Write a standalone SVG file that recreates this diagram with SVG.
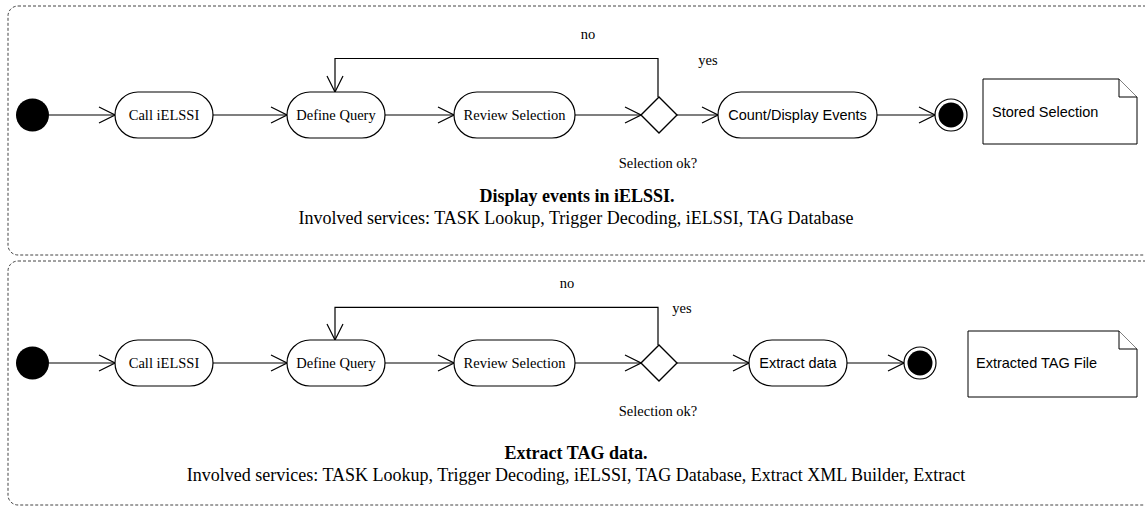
<svg xmlns="http://www.w3.org/2000/svg" width="1145" height="507" viewBox="0 0 1145 507">
  <style>
    .panel { fill: none; stroke: #444; stroke-width: 1; stroke-dasharray: 3 2; }
    .action { fill: #fff; stroke: #000; stroke-width: 1.2; }
    .decision { fill: #fff; stroke: #000; stroke-width: 1.4; }
    .note { fill: #fff; stroke: #000; stroke-width: 1; }
    .edge { fill: none; stroke: #000; stroke-width: 1.2; marker-end: url(#open); }
    .serif { font-family: "Liberation Serif", "Times New Roman", serif; font-size: 14.5px; fill: #000; }
    .sans { font-family: "Liberation Sans", Arial, sans-serif; font-size: 14.5px; fill: #000; }
    .title { font-family: "Liberation Serif", "Times New Roman", serif; font-size: 18px; fill: #000; text-anchor: middle; }
    .mid { text-anchor: middle; }
  </style>
  <defs>
    <marker id="open" viewBox="0 0 18 18" refX="17" refY="9" markerWidth="18" markerHeight="18" markerUnits="userSpaceOnUse" orient="auto">
      <path d="M1,1 L17,9 L1,17" fill="none" stroke="#000" stroke-width="1.2"/>
    </marker>
  </defs>

  <!-- swimlane frames -->
  <rect class="panel" x="8" y="6" width="1150" height="249" rx="10"/>
  <rect class="panel" x="8" y="261" width="1150" height="244" rx="10"/>

  <!-- ===== Display events in iELSSI ===== -->
  <g id="connectors-display">
    <line class="edge" x1="49" y1="115" x2="115" y2="115"/>
    <line class="edge" x1="213" y1="115" x2="287" y2="115"/>
    <line class="edge" x1="385" y1="115" x2="454" y2="115"/>
    <line class="edge" x1="575" y1="115" x2="641" y2="115"/>
    <line class="edge" x1="677" y1="115" x2="718" y2="115"/>
    <line class="edge" x1="877" y1="115" x2="935" y2="115"/>
    <polyline class="edge" points="658,97 658,58.5 335,58.5 335,92"/>
  </g>
  <g id="d-start"><circle cx="32.5" cy="115" r="16.5" fill="#000"/></g>
  <g id="d-call">
    <rect class="action" x="115" y="92" width="98" height="46" rx="23"/>
    <text class="serif mid" x="164" y="120">Call iELSSI</text>
  </g>
  <g id="d-define">
    <rect class="action" x="287" y="92" width="98" height="46" rx="23"/>
    <text class="serif mid" x="336" y="120">Define Query</text>
  </g>
  <g id="d-review">
    <rect class="action" x="454" y="92" width="121" height="46" rx="23"/>
    <text class="serif mid" x="514.5" y="120">Review Selection</text>
  </g>
  <g id="d-decision">
    <polygon class="decision" points="659,97 677,115 659,133 641,115"/>
    <text class="serif mid" x="588" y="39">no</text>
    <text class="serif mid" x="708" y="65">yes</text>
    <text class="serif mid" x="658" y="168">Selection ok?</text>
  </g>
  <g id="d-count">
    <rect class="action" x="718" y="92" width="159" height="46" rx="23"/>
    <text class="sans mid" x="797.5" y="120">Count/Display Events</text>
  </g>
  <g id="d-end">
    <circle cx="951" cy="115" r="16" fill="#fff" stroke="#000" stroke-width="1.2"/>
    <circle cx="951" cy="115" r="12.5" fill="#000"/>
  </g>
  <g id="d-note">
    <path class="note" d="M983,79 H1119 L1137,97 V144 H983 Z"/>
    <path class="note" d="M1119,79 V97 H1137" fill="none"/>
    <text class="sans" x="992" y="117">Stored Selection</text>
  </g>
  <g id="d-caption">
    <text class="title" x="577" y="202" font-weight="bold">Display events in iELSSI.</text>
    <text class="title" x="576" y="224">Involved services: TASK Lookup, Trigger Decoding, iELSSI, TAG Database</text>
  </g>

  <!-- ===== Extract TAG data ===== -->
  <g id="connectors-extract">
    <line class="edge" x1="49" y1="363" x2="115" y2="363"/>
    <line class="edge" x1="213" y1="363" x2="287" y2="363"/>
    <line class="edge" x1="385" y1="363" x2="454" y2="363"/>
    <line class="edge" x1="575" y1="363" x2="641" y2="363"/>
    <line class="edge" x1="677" y1="363" x2="749" y2="363"/>
    <line class="edge" x1="847" y1="363" x2="904" y2="363"/>
    <polyline class="edge" points="658,345 658,307.3 335,307.3 335,340"/>
  </g>
  <g id="e-start"><circle cx="32.5" cy="363" r="16.5" fill="#000"/></g>
  <g id="e-call">
    <rect class="action" x="115" y="340" width="98" height="46" rx="23"/>
    <text class="serif mid" x="164" y="368">Call iELSSI</text>
  </g>
  <g id="e-define">
    <rect class="action" x="287" y="340" width="98" height="46" rx="23"/>
    <text class="serif mid" x="336" y="368">Define Query</text>
  </g>
  <g id="e-review">
    <rect class="action" x="454" y="340" width="121" height="46" rx="23"/>
    <text class="serif mid" x="514.5" y="368">Review Selection</text>
  </g>
  <g id="e-decision">
    <polygon class="decision" points="659,345 677,363 659,381 641,363"/>
    <text class="serif mid" x="567" y="288">no</text>
    <text class="serif mid" x="682" y="313">yes</text>
    <text class="serif mid" x="658" y="416">Selection ok?</text>
  </g>
  <g id="e-extract">
    <rect class="action" x="749" y="340" width="98" height="46" rx="23"/>
    <text class="sans mid" x="798" y="368">Extract data</text>
  </g>
  <g id="e-end">
    <circle cx="920" cy="363" r="16" fill="#fff" stroke="#000" stroke-width="1.2"/>
    <circle cx="920" cy="363" r="12.5" fill="#000"/>
  </g>
  <g id="e-note">
    <path class="note" d="M968,331 H1119 L1137,349 V397 H968 Z"/>
    <path class="note" d="M1119,331 V349 H1137" fill="none"/>
    <text class="sans" x="976" y="368">Extracted TAG File</text>
  </g>
  <g id="e-caption">
    <text class="title" x="576" y="459" font-weight="bold">Extract TAG data.</text>
    <text class="title" x="576" y="481">Involved services: TASK Lookup, Trigger Decoding, iELSSI, TAG Database, Extract XML Builder, Extract</text>
  </g>
</svg>
